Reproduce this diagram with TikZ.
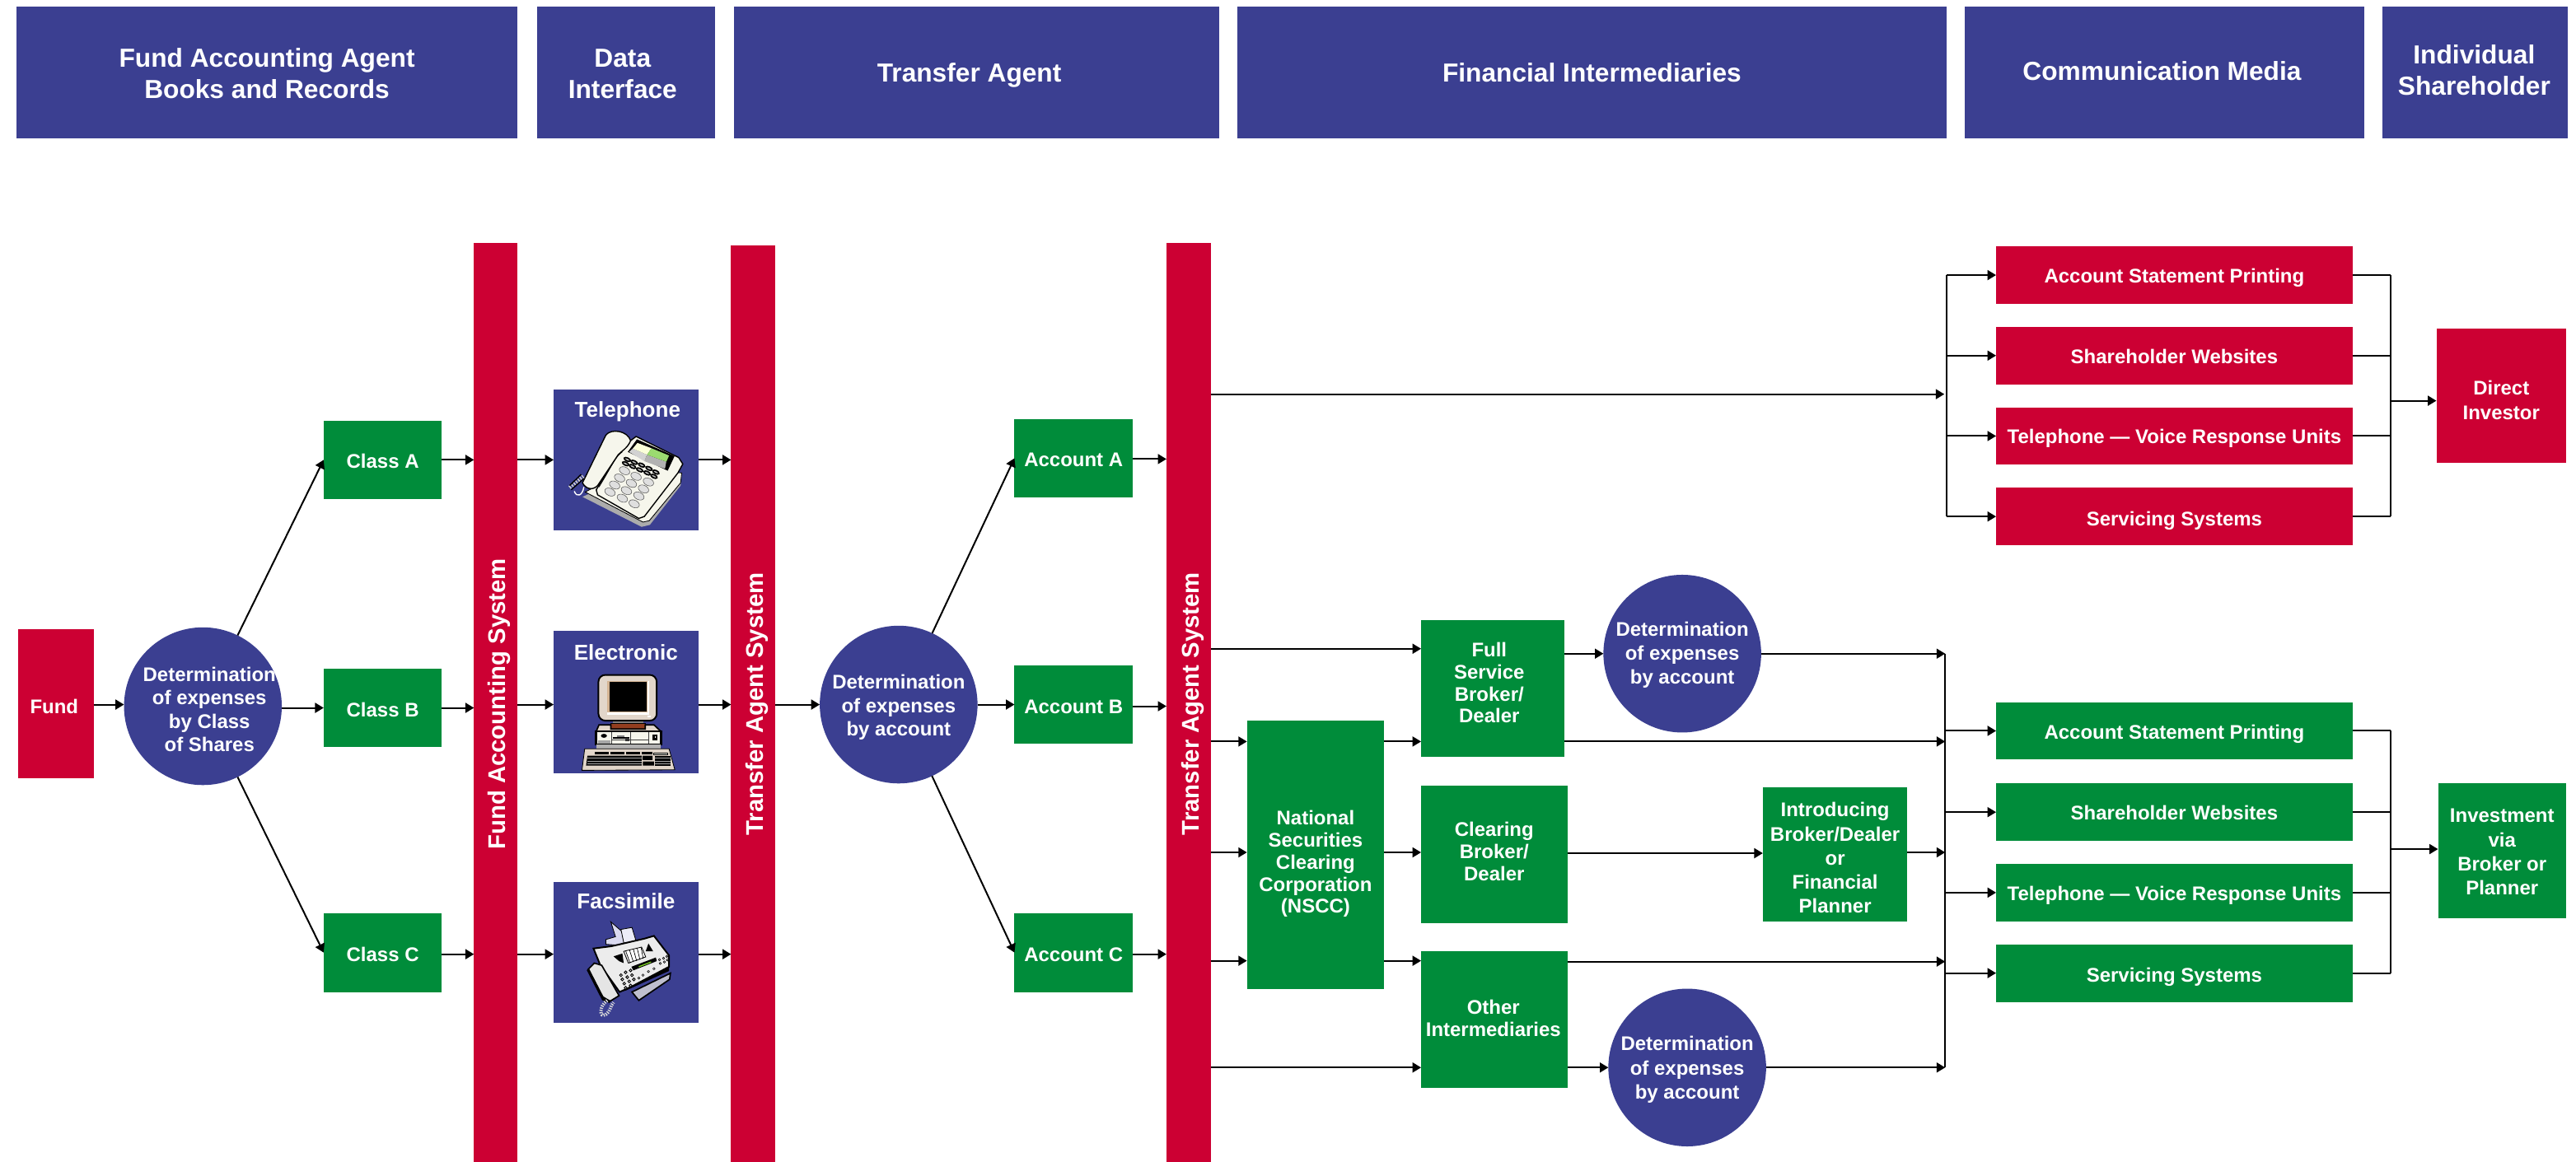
\documentclass[tikz,border=0pt]{standalone}
\usepackage{fontspec}
\usepackage{graphicx}
\setmainfont{Liberation Sans}
\usetikzlibrary{arrows.meta}
\definecolor{hblue}{HTML}{3B3F91}
\definecolor{hred}{HTML}{CC0033}
\definecolor{hgreen}{HTML}{008C3A}
\definecolor{cream}{HTML}{F6F6EC}
\definecolor{beige}{HTML}{E2D6CA}
\definecolor{lav}{HTML}{DADAF0}
\tikzset{
  bbase/.style={rectangle,inner sep=0pt,outer sep=0pt,text=white,font=\bfseries\fontsize{8.55}{10}\selectfont},
  gbox/.style={bbase,fill=hgreen},
  rbox/.style={bbase,fill=hred},
  head/.style={bbase,fill=hblue,font=\bfseries\fontsize{11.3}{13.6}\selectfont},
  bar/.style={bbase,fill=hred,font=\bfseries\fontsize{10.45}{13}\selectfont},
  ibox/.style={bbase,fill=hblue},
  ilabel/.style={text=white,inner sep=0pt,font=\bfseries\fontsize{9.3}{11}\selectfont},
  circ/.style={circle,fill=hblue,text=white,inner sep=0pt,outer sep=0pt,minimum size=2.4cm,font=\bfseries\fontsize{8.55}{10}\selectfont},
  ln/.style={line width=0.025cm,black},
  arr/.style={ln,-{Triangle[length=1.3mm,width=1.5mm]}},
  ico/.style={draw=black,line width=0.3pt},
}
\newdimen\du \du=0.025cm
\newcommand\bx[7]{\node[#6,minimum width={(#4-#2)*0.025cm},minimum height={(#5-#3)*0.025cm}] (#1) at ({(#2+#4)/2},{(#3+#5)/2}) {#7};}
% text set about the node centre: [line spacing factor]{dx}{dy}{lines}
\newcommand\tb[4][1]{\raisebox{\dimexpr 0pt-#3\du-0.3em\relax}[0pt][0pt]{\makebox[0pt]{\kern#2\du\kern#2\du\renewcommand\arraystretch{#1}\begin{tabular}[c]{@{}c@{}}#4\end{tabular}}}}
\begin{document}
\begin{tikzpicture}[x=0.025cm,y=-0.025cm]
\useasboundingbox (0,0) rectangle (1568,707.5);
\fill[white] (0,0) rectangle (1568,707.5);
% headers
\bx{h1}{10}{4}{315}{84}{head}{\tb{0}{1.5}{Fund Accounting Agent\\Books and Records}}
\bx{h2}{327}{4}{435}{84}{head}{\tb{-2}{1.5}{Data\\Interface}}
\bx{h3}{447}{4}{742}{84}{head}{\tb{-4.5}{1}{Transfer Agent}}
\bx{h4}{753}{4}{1185}{84}{head}{\tb{0}{1}{Financial Intermediaries}}
\bx{h5}{1196}{4}{1439}{84}{head}{\tb{-1.5}{0}{Communication Media}}
\bx{h6}{1450}{4}{1563}{84}{head}{\tb{-0.5}{-0.5}{Individual\\Shareholder}}
% left column
\bx{fund}{11}{383}{57}{474}{rbox}{\tb{-1}{2.5}{Fund}}
\node[circ] (c1) at (123.5,430) {\tb{4}{3}{Determination\\of expenses\\by Class\\of Shares}};
\bx{ca}{197}{256}{269}{304}{gbox}{\tb{0}{2}{Class A}}
\bx{cb}{197}{407}{269}{455}{gbox}{\tb{0}{2}{Class B}}
\bx{cc}{197}{556}{269}{604}{gbox}{\tb{0}{2}{Class C}}
\bx{bar1}{288.5}{148}{315}{707.5}{bar}{\tb{2.3}{2.75}{\rotatebox{90}{Fund Accounting System}}}
\bx{tel}{337}{237}{425}{323}{ibox}{}
\bx{ele}{337}{384}{425}{471}{ibox}{}
\bx{fax}{337}{537}{425}{623}{ibox}{}
\node[ilabel] (tell) at (382,250.5) {Telephone};
\node[ilabel] (elel) at (381,397) {Electronic};
\node[ilabel] (faxl) at (381,548.5) {Facsimile};
\bx{bar2}{445}{149.5}{472}{707.5}{bar}{\tb{2.5}{2.1}{\rotatebox{90}{Transfer Agent System}}}
\node[circ] (c2) at (547,429) {\tb{0}{1.5}{Determination\\of expenses\\by account}};
\bx{aa}{617.5}{255}{689.5}{303}{gbox}{\tb{0}{2}{Account A}}
\bx{ab}{617.5}{405}{689.5}{453}{gbox}{\tb{0}{2}{Account B}}
\bx{ac}{617.5}{556}{689.5}{604}{gbox}{\tb{0}{2}{Account C}}
\bx{bar3}{710}{148}{737}{707.5}{bar}{\tb{2.5}{2.6}{\rotatebox{90}{Transfer Agent System}}}
% intermediaries
\bx{nscc}{759}{439}{842.5}{602}{gbox}{\tb[.957]{0}{5.5}{National\\Securities\\Clearing\\Corporation\\(NSCC)}}
\bx{full}{865}{377.5}{952}{461}{gbox}{\tb[.95]{-2}{-2.25}{Full\\Service\\Broker/\\Dealer}}
\bx{clr}{865}{478.5}{954}{562}{gbox}{\tb[.957]{0}{-0.75}{Clearing\\Broker/\\Dealer}}
\bx{oth}{865}{579}{954}{662.5}{gbox}{\tb[.99]{-0.5}{0.25}{Other\\Intermediaries}}
\bx{intr}{1073}{479.5}{1161}{561}{gbox}{\tb[1.04]{0}{3}{Introducing\\Broker/Dealer\\or\\Financial\\Planner}}
\node[circ] (c3) at (1024,398) {\tb[1.03]{0}{0.5}{Determination\\of expenses\\by account}};
\node[circ] (c4) at (1027,650) {\tb[1.063]{0}{1}{Determination\\of expenses\\by account}};
% media
\bx{r1}{1215}{150}{1432}{185}{rbox}{\tb{0}{1.5}{Account Statement Printing}}
\bx{r2}{1215}{199}{1432}{234}{rbox}{\tb{0}{1.5}{Shareholder Websites}}
\bx{r3}{1215}{248}{1432}{283}{rbox}{\tb{0}{1.5}{Telephone --- Voice Response Units}}
\bx{r4}{1215}{297}{1432}{332}{rbox}{\tb{0}{2.5}{Servicing Systems}}
\bx{dir}{1483}{200}{1562}{282}{rbox}{\tb[1.063]{0}{3.5}{Direct\\Investor}}
\bx{g1}{1215}{427.5}{1432}{462.5}{gbox}{\tb{0}{2}{Account Statement Printing}}
\bx{g2}{1215}{477}{1432}{512}{gbox}{\tb{0}{1.5}{Shareholder Websites}}
\bx{g3}{1215}{526}{1432}{561}{gbox}{\tb{0}{1.5}{Telephone --- Voice Response Units}}
\bx{g4}{1215}{575}{1432}{610}{gbox}{\tb{0}{2}{Servicing Systems}}
\bx{inv}{1484}{477}{1562}{559}{gbox}{\tb[1.04]{0}{1.5}{Investment\\via\\Broker or\\Planner}}
% bus coordinates
\coordinate (busa) at (1185,240);
\coordinate (busb) at (1455,244);
\coordinate (busc) at (1184,398);
\coordinate (busd) at (1184,650);
\coordinate (buse) at (1455,517);
% connectors left
\draw[arr] (fund.east |- 0,429) -- (c1.west |- 0,429);
\draw[arr] (c1) -- (ca.west);
\draw[arr] (c1.east |- 0,431) -- (cb.west |- 0,431);
\draw[arr] (c1) -- (cc.west);
\foreach \a/\b/\yy in {ca/bar1/280,cb/bar1/431,cc/bar1/581,bar1/tel/280,bar1/ele/429,bar1/fax/581,tel/bar2/280,ele/bar2/429,fax/bar2/581,aa/bar3/279.5,ab/bar3/430,ac/bar3/581}
  \draw[arr] (\a.east |- 0,\yy) -- (\b.west |- 0,\yy);
\draw[arr] (bar2.east |- c2.west) -- (c2.west);
\draw[arr] (c2) -- (aa.west);
\draw[arr] (c2.east) -- (ab.west |- c2.east);
\draw[arr] (c2) -- (ac.west);
% connectors upper right
\draw[arr,shorten >=1.5\du] (bar3.east |- busa) -- (busa);
\draw[ln] (r1.west -| busa) -- (r4.west -| busa);
\foreach \n in {r1,r2,r3,r4} {
  \draw[arr] (\n.west -| busa) -- (\n.west);
  \draw[ln] (\n.east) -- (\n.east -| busb);
}
\draw[ln] (r1.east -| busb) -- (r4.east -| busb);
\draw[arr] (busb) -- (dir.west |- busb);
% connectors lower
\foreach \a/\b/\yy in {bar3/full/395,bar3/nscc/451.5,bar3/nscc/519,bar3/nscc/585,nscc/full/451.5,nscc/clr/519,nscc/oth/585,bar3/oth/650}
  \draw[arr] (\a.east |- 0,\yy) -- (\b.west |- 0,\yy);
\draw[arr] (full.east |- c3.west) -- (c3.west);
\draw[arr] (c3.east) -- (busc);
\draw[arr] (full.east |- 0,451.5) -- (busc |- 0,451.5);
\draw[arr] (clr.east |- 0,519.5) -- (intr.west |- 0,519.5);
\draw[arr] (intr.east |- 0,519) -- (busc |- 0,519);
\draw[arr] (oth.east |- 0,585.5) -- (busc |- 0,585.5);
\draw[arr] (oth.east |- c4.west) -- (c4.west);
\draw[arr] (c4.east) -- (busd);
\draw[ln] (busc) -- (busd);
\foreach \n in {g1,g2,g3,g4} {
  \draw[arr] (\n.west -| busc) -- (\n.west);
  \draw[ln] (\n.east) -- (\n.east -| buse);
}
\draw[ln] (g1.east -| buse) -- (g4.east -| buse);
\draw[arr] (buse) -- (inv.west |- buse);
% ---------- telephone icon
\begin{scope}[shift={(337,236.7)},x=0.00418cm,y=-0.00427cm]
\fill[gray!65] (105,385) -- (320,492) -- (350,485) -- (462,345) -- (465,310) -- (300,300) -- cycle;
\filldraw[fill=cream,ico] (115,368) -- (325,475) -- (348,470) -- (462,335) -- (466,300) -- (280,280) -- cycle;
\filldraw[fill=cream,ico,line width=0.5pt] (280,185) -- (300,170) -- (455,245) -- (470,268) -- (452,300) -- (330,455) -- (310,462) -- (160,378) -- (155,360) -- (230,240) -- cycle;
\fill[black] (303,180) -- (440,240) -- (415,292) -- (270,225) -- cycle;
\fill[gray!35] (288,213) -- (340,235) -- (330,258) -- (275,225) -- cycle;
\fill[gray!60] (340,235) -- (410,260) -- (405,285) -- (330,258) -- cycle;
\fill[green!10!yellow!15!white] (305,193) -- (356,212) -- (340,235) -- (288,213) -- cycle;
\fill[green!60!yellow!60!gray!70] (356,212) -- (420,238) -- (410,260) -- (340,235) -- cycle;
\foreach \x/\y in {268/252,293/262,320/272,347/284,372/297,262/267,287/277,313/289,340/300,365/312}
  \filldraw[fill=gray!50,draw=black,line width=0.6pt,shift={(\x,\y)},rotate=-25] (0,0) ellipse [x radius=12,y radius=5.5];
\foreach \x/\y in {258/292,300/312,345/332,240/318,283/337,327/357,222/343,265/363,310/382,205/368,250/390,293/410}
  \filldraw[fill=gray!25,draw=gray!70!black,line width=0.2pt,shift={(\x,\y)},rotate=-25] (0,0) ellipse [x radius=20,y radius=13];
\filldraw[fill=cream,ico,line width=0.5pt] (190,165) .. controls (210,140) and (270,150) .. (280,185) .. controls (270,210) and (250,220) .. (235,235) -- (160,345) .. controls (140,365) and (115,355) .. (105,335) -- cycle;
\draw[ico,fill=none] (250,225) .. controls (225,240) and (215,270) .. (165,350);
\draw[line width=1.6pt,gray!40,dash pattern=on 0.6pt off 0.6pt] (58,352) -- (108,312);
\draw[black,line width=0.5pt] (58,345) -- (100,305) (64,360) -- (110,320);
\draw[white,line width=0.5pt] (75,365) .. controls (85,390) and (105,380) .. (110,350);
\end{scope}
% ---------- computer icon
\begin{scope}[shift={(337,384.1)},x=0.00418cm,y=-0.00427cm]
\filldraw[fill=beige,ico,line width=0.7pt,rounded corners=3pt] (163,157) rectangle (375,320);
\fill[beige!60!brown] (195,180) rectangle (345,295);
\draw[white,line width=0.8pt] (345,180) -- (345,295) -- (195,295);
\fill[black] (205,183) rectangle (338,288);
\fill[white] (342,303) rectangle (354,308);
\fill[gray] (215,322) rectangle (327,332);
\filldraw[fill=brown!70!red!70!black,ico] (208,330) rectangle (333,350);
\filldraw[fill=beige,ico,line width=0.6pt] (165,335) -- (208,335) -- (208,350) -- (333,350) -- (333,335) -- (365,335) -- (390,358) -- (155,358) -- cycle;
\filldraw[fill=cream,ico,line width=1pt] (155,358) rectangle (390,405);
\draw[gray!50!black,line width=0.3pt] (212,360) -- (212,403) (280,360) -- (280,403) (347,360) -- (347,403) (212,388) -- (347,388);
\fill[black] (183,374) ellipse [x radius=11,y radius=7];
\fill[gray!70] (163,390) rectangle (208,402);
\fill[gray] (232,372) rectangle (258,382);
\fill[black] (215,378) rectangle (276,384);
\fill[black!80] (260,382) rectangle (276,392);
\filldraw[fill=white,draw=black,line width=0.8pt] (364,373) rectangle (374,386);
\fill[gray!60] (155,405) rectangle (390,422);
\filldraw[fill=beige,ico] (113,420) -- (420,420) -- (441,495) -- (103,497) -- cycle;
\foreach \a/\b in {150/200,207/258,265/315,322/360}
  \fill[black] (\a,431) rectangle (\b,441);
\filldraw[fill=cream,draw=black,line width=0.3pt] (365,434) rectangle (415,442);
\fill[black] (123,445) -- (320,445) -- (320,480) -- (118,480) -- cycle;
\fill[black] (323,445) rectangle (360,460) (325,465) rectangle (365,480);
\fill[black] (367,445) rectangle (425,480);
\foreach \yy in {454,463,472}{ \draw[gray!70,line width=0.2pt] (122,\yy) -- (320,\yy) (367,\yy) -- (425,\yy); }
\end{scope}
% ---------- fax icon
\begin{scope}[shift={(337,536.5)},x=0.00418cm,y=-0.00427cm]
\filldraw[fill=lav,ico] (208,145) -- (255,185) -- (258,230) -- (190,225) -- (190,208) -- (225,198) -- cycle;
\filldraw[fill=lav!50!white,ico] (245,172) -- (285,165) -- (308,240) -- (262,252) -- cycle;
\filldraw[fill=lav!70!gray,ico,line width=0.6pt] (285,395) -- (425,328) -- (422,350) -- (310,425) -- cycle;
\filldraw[fill=gray!15,ico,line width=0.7pt] (145,240) -- (210,232) -- (330,205) -- (365,195) -- (420,265) -- (420,305) -- (285,375) -- (240,395) -- (170,300) -- cycle;
\fill[black] (262,390) -- (420,320) -- (420,305) -- (285,375) -- (240,395) -- cycle;
\filldraw[fill=white,ico] (255,250) -- (320,235) -- (335,270) -- (272,292) -- cycle;
\foreach \t in {0,0.2,0.4,0.6,0.8}
  \draw[black,line width=0.25pt] ({262+\t*70},{248-\t*15}) -- ({278+\t*60},{292-\t*20});
\fill[black] (218,268) -- (250,258) -- (255,292) -- (238,285) -- cycle;
\fill[black] (345,222) -- (362,250) -- (335,250) -- cycle;
\fill[black] (283,305) -- (372,272) -- (375,285) -- (290,318) -- cycle;
\fill[green!50!yellow!70!gray] (310,303) -- (355,286) -- (355,290) -- (310,307) -- cycle;
\foreach \x/\y in {245/335,262/325,280/318,250/350,268/342,285/335,257/365,275/357,292/350,262/380,280/372}
  \filldraw[fill=gray!30,draw=black,line width=0.3pt] (\x,\y) circle [radius=5];
\foreach \x/\y in {325/335,345/322,365/312,310/345}
  \filldraw[fill=white,draw=black,line width=0.2pt] (\x,\y) circle [radius=4];
\foreach \x/\y in {385/280,400/275,412/268,388/293,403/288,414/281}
  \filldraw[fill=gray!40,draw=black,line width=0.2pt] (\x,\y) circle [radius=4];
\filldraw[fill=gray!20,ico,line width=0.6pt] (125,315) -- (148,292) -- (175,300) -- (238,408) -- (205,428) -- (175,410) -- cycle;
\draw[black,line width=1.2pt] (125,315) -- (180,420) -- (205,430);
\draw[gray!30,line width=1.4pt,dash pattern=on 0.5pt off 0.5pt] (195,425) .. controls (165,445) and (165,490) .. (190,475) .. controls (210,460) and (205,445) .. (218,432);
\end{scope}
\end{tikzpicture}
\end{document}
